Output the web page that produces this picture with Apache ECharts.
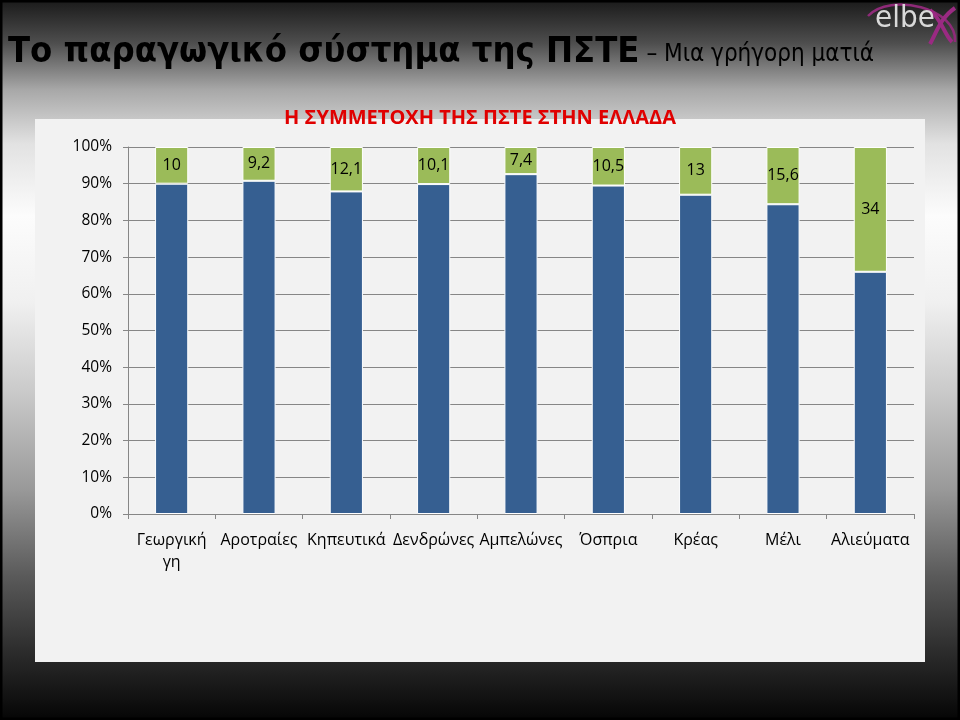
<!DOCTYPE html>
<html>
<head>
<meta charset="utf-8">
<style>
  html, body { margin: 0; padding: 0; background: #000; }
  #chart { width: 960px; height: 720px; }
</style>
<script src="https://cdn.jsdelivr.net/npm/echarts@6/dist/echarts.min.js"></script>
</head>
<body>
<div id="chart"></div>
<script>
// ---- Data ----
const categories = ['Γεωργική\nγη', 'Αροτραίες', 'Κηπευτικά', 'Δενδρώνες', 'Αμπελώνες', 'Όσπρια', 'Κρέας', 'Μέλι', 'Αλιεύματα'];
const shareGreece = [90, 90.8, 87.9, 89.9, 92.6, 89.5, 87, 84.4, 66];   // blue segment
const sharePSTE  = [10, 9.2, 12.1, 10.1, 7.4, 10.5, 13, 15.6, 34];      // green segment
const yTicks = [0, 10, 20, 30, 40, 50, 60, 70, 80, 90, 100];
const slideTitle = 'Το παραγωγικό σύστημα της ΠΣΤΕ';
const slideSubtitle = '– Μια γρήγορη ματιά';
const chartTitle = 'Η ΣΥΜΜΕΤΟΧΗ ΤΗΣ ΠΣΤΕ ΣΤΗΝ ΕΛΛΑΔΑ';

const chart = echarts.init(document.getElementById('chart'), null, { renderer: 'canvas' });
const labelFont = '"Open Sans", "Noto Sans", sans-serif';

const option = {
  animation: false,
  backgroundColor: '#000',
  graphic: [
    {
      type: 'rect', z: -30, silent: true,
      shape: { x: 0, y: 0, width: 960, height: 720 },
      style: {
        fill: new echarts.graphic.LinearGradient(0, 0, 0, 1, [
          { offset: 0, color: '#1a1a1a' },
          { offset: 0.06, color: '#4e4e4e' },
          { offset: 0.125, color: '#a8a8a8' },
          { offset: 0.2, color: '#e2e2e2' },
          { offset: 0.3, color: '#fcfcfc' },
          { offset: 0.42, color: '#f0f0f0' },
          { offset: 0.55, color: '#c8c8c8' },
          { offset: 0.68, color: '#999999' },
          { offset: 0.80, color: '#5a5a5a' },
          { offset: 0.90, color: '#2e2e2e' },
          { offset: 1, color: '#050505' }
        ])
      }
    },
    {
      type: 'rect', z: -30, silent: true,
      shape: { x: 1, y: 1, width: 958, height: 718 },
      style: { fill: null, stroke: '#000', lineWidth: 3 }
    },
    {
      type: 'rect', z: -20, silent: true,
      shape: { x: 35, y: 119, width: 890, height: 543 },
      style: { fill: '#f2f2f2' }
    },
    {
      type: 'text', z: 10, left: 8, top: 35,
      style: {
        text: '{a|' + slideTitle + '}{b|' + slideSubtitle + '}',
        rich: {
          a: { fontFamily: '"DejaVu Sans Condensed", "DejaVu Sans", sans-serif', fontWeight: 'bold', fontSize: 36, fill: '#000', verticalAlign: 'bottom', lineHeight: 44 },
          b: { fontFamily: '"DejaVu Sans Condensed", "DejaVu Sans", sans-serif', fontWeight: 'normal', fontSize: 24, fill: '#000', verticalAlign: 'bottom', lineHeight: 44, padding: [0, 0, 4, 7] }
        }
      }
    },
    // logo
    {
      type: 'bezierCurve', z: 10, silent: true,
      shape: { x1: 868, y1: 16, x2: 955, y2: 42, cpx1: 890, cpy1: -8, cpx2: 958, cpy2: 8 },
      style: { stroke: '#8e2a78', lineWidth: 2.5, fill: null }
    },
    {
      type: 'bezierCurve', z: 10, silent: true,
      shape: { x1: 930, y1: 10, x2: 952, y2: 42, cpx1: 942, cpy1: 20, cpx2: 944, cpy2: 34 },
      style: { stroke: '#9a2a82', lineWidth: 4, fill: null }
    },
    {
      type: 'bezierCurve', z: 10, silent: true,
      shape: { x1: 955, y1: 8, x2: 930, y2: 44, cpx1: 940, cpy1: 18, cpx2: 936, cpy2: 34 },
      style: { stroke: '#9a2a82', lineWidth: 4, fill: null }
    },
    {
      type: 'text', z: 11, left: 875, top: 3,
      style: { text: 'elbe', fontFamily: '"DejaVu Sans Condensed", sans-serif', fontSize: 31, fill: '#d9d9d9' }
    }
  ],
  title: {
    text: chartTitle,
    left: 'center',
    top: 103,
    textStyle: { color: '#e00000', fontFamily: labelFont, fontWeight: 'bold', fontSize: 20 }
  },
  grid: { left: 128, right: 46, top: 147, bottom: 206, containLabel: false },
  xAxis: {
    type: 'category',
    data: categories,
    axisLine: { show: true, lineStyle: { color: '#868686', width: 1 } },
    axisTick: { show: true, length: 5, lineStyle: { color: '#868686' } },
    axisLabel: { color: '#000', fontFamily: labelFont, fontSize: 16, margin: 15, lineHeight: 22, interval: 0 },
    splitLine: { show: false }
  },
  yAxis: {
    type: 'value',
    min: 0, max: 100, interval: 10,
    axisLine: { show: true, lineStyle: { color: '#868686', width: 1 } },
    axisTick: { show: true, length: 5, lineStyle: { color: '#868686' } },
    axisLabel: { color: '#000', fontFamily: labelFont, fontSize: 15.5, margin: 16,
      formatter: v => yTicks.includes(v) ? v + '%' : '' },
    splitLine: { show: true, lineStyle: { color: '#868686', width: 1 } }
  },
  series: [
    {
      name: 'Ελλάδα',
      type: 'bar',
      stack: 'total',
      data: shareGreece,
      barWidth: '38%',
      itemStyle: { color: '#365f91', borderColor: '#ffffff', borderWidth: 1 },
      label: { show: false }
    },
    {
      name: 'ΠΣΤΕ',
      type: 'bar',
      stack: 'total',
      data: sharePSTE,
      barWidth: '38%',
      itemStyle: { color: '#9bbb59', borderColor: '#ffffff', borderWidth: 1 },
      label: {
        show: true, position: 'inside', color: '#000', fontFamily: labelFont, fontSize: 16,
        formatter: p => String(p.value).replace('.', ',')
      }
    }
  ]
};
chart.setOption(option);
</script>
</body>
</html>
